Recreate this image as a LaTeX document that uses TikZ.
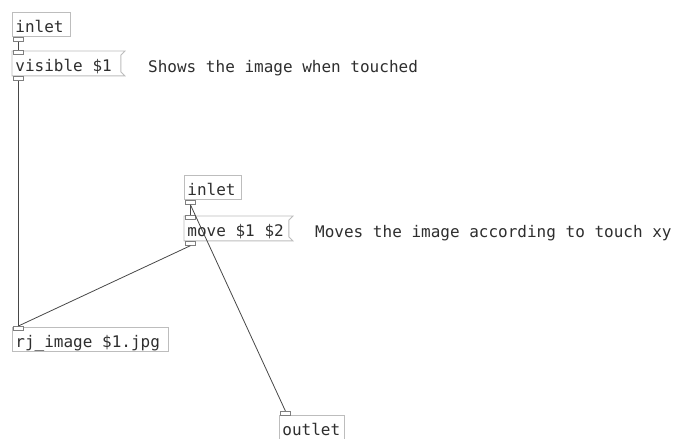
\documentclass[tikz,border=0pt]{standalone}
\usepackage{fontspec}
\setmonofont[WordSpace={1,0,0}]{DejaVu Sans Mono}
\usetikzlibrary{positioning}
\definecolor{pdbox}{HTML}{BDBDBD}
\definecolor{pdtext}{HTML}{2E2E2E}
\definecolor{pdline}{HTML}{484848}
\tikzset{
  pdfont/.style={font=\ttfamily\fontsize{16}{16}\selectfont, text=pdtext},
  pdobj/.style={pdfont, draw=pdbox, line width=0.9pt, anchor=north west,
    text height=20pt, text depth=4pt, inner xsep=3pt, inner ysep=0pt, align=flush left},
  pdmsg/.style={pdobj, draw=none},
  pdport/.style={draw=pdline!70, fill=white, line width=0.8pt, minimum width=10pt,
    minimum height=4pt, inner sep=0pt, anchor=north west},
  pdwire/.style={draw=pdline, line width=0.8pt},
  pdnote/.style={pdfont, anchor=base west, inner sep=0pt},
}
\begin{document}
\begin{tikzpicture}[x=1pt, y=-1pt]
  \useasboundingbox (0,0) rectangle (683,439);
  \fill[white] (0,0) rectangle (683,439);
  % boxes
  \node[pdobj, text width=52pt] (in1) at (12,12) {inlet};
  \node[pdmsg, text width=102pt] (vis) at (12,51) {visible \$1};
  \node[pdobj, text width=51pt] (in2) at (184,175) {inlet};
  \node[pdmsg, text width=98pt] (mov) at (184,216) {move \$1 \$2};
  \node[pdobj, text width=150pt] (rj) at (12,327) {rj\_image \$1.jpg};
  \node[pdobj, text width=59pt] (out) at (279,415) {outlet};
  % message flags
  \foreach \m in {vis, mov}
    \draw[pdbox, line width=0.9pt] (\m.north west) -- ([xshift=4pt]\m.north east)
      -- ([yshift=-4pt]\m.north east) -- ([yshift=4pt]\m.south east)
      -- ([xshift=4pt]\m.south east) -- (\m.south west) -- cycle;
  % comments
  \node[pdnote] (c1) at (148,72) {Shows the image when touched};
  \node[pdnote] (c2) at (315,237) {Moves the image according to touch xy};
  % ports
  \node[pdport] (in1o) at ([xshift=1pt]in1.south west) {};
  \node[pdport] (visi) at ([xshift=1pt,yshift=1pt]vis.north west) {};
  \node[pdport] (viso) at ([xshift=1pt]vis.south west) {};
  \node[pdport] (in2o) at ([xshift=1pt]in2.south west) {};
  \node[pdport] (movi) at ([xshift=1pt,yshift=1pt]mov.north west) {};
  \node[pdport] (movo) at ([xshift=1pt]mov.south west) {};
  \node[pdport] (rji) at ([xshift=1pt,yshift=1pt]rj.north west) {};
  \node[pdport] (outi) at ([xshift=1pt,yshift=4pt]out.north west) {};
  % wires
  \draw[pdwire] (in1o.south) -- (visi.north);
  \draw[pdwire] (viso.south) -- (rji.north);
  \draw[pdwire] (in2o.south) -- (movi.north);
  \draw[pdwire] (in2o.south) -- (outi.north);
  \draw[pdwire] (movo.south) -- (rji.north);
\end{tikzpicture}
\end{document}
